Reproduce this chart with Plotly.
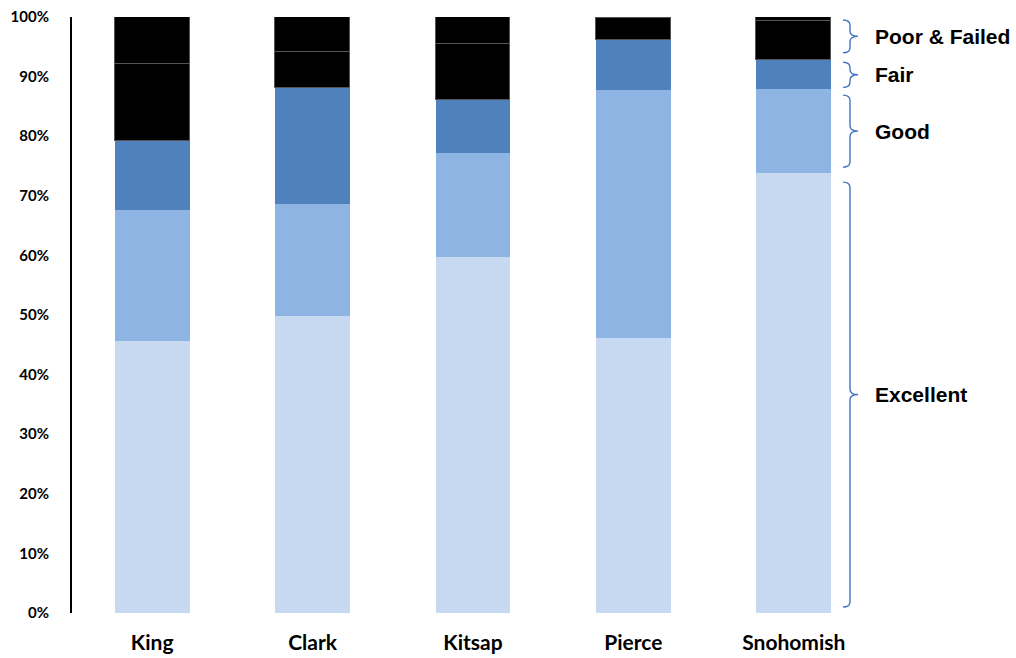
import plotly.graph_objects as go

counties = ["King", "Clark", "Kitsap", "Pierce", "Snohomish"]
excellent = [45.7, 49.9, 59.8, 46.2, 73.8]
good = [22.0, 18.7, 17.3, 41.5, 14.1]
fair = [11.5, 19.5, 8.9, 8.4, 4.9]
poor = [12.9, 6.0, 9.5, 3.7, 6.5]
failed = [7.9, 5.9, 4.5, 0.2, 0.7]
y_ticks = [0, 10, 20, 30, 40, 50, 60, 70, 80, 90, 100]

series = [
    ("Excellent", excellent, "#C6D9F1", "#C6D9F1", 0),
    ("Good", good, "#8EB4E3", "#8EB4E3", 0),
    ("Fair", fair, "#4F81BD", "#4F81BD", 0),
    ("Poor", poor, "#000000", "#555555", 1),
    ("Failed", failed, "#000000", "#555555", 1),
]

fig = go.Figure()
for name, vals, color, lcolor, lw in series:
    fig.add_trace(go.Bar(
        x=counties, y=vals, name=name,
        marker=dict(color=color, line=dict(color=lcolor, width=lw)),
        width=0.467,
    ))

# Curly braces beside the last bar, grouping its condition bands
last = len(counties) - 1
c1 = excellent[last]
c2 = c1 + good[last]
c3 = c2 + fair[last]
groups = [
    ("Excellent", 1.0, c1 - 1.5),
    ("Good", c1 + 1.0, c2 - 1.0),
    ("Fair", c2 + 0.3, c3 - 0.4),
    ("Poor & Failed", c3 + 1.2, 99.5),
]

L, W = 72, 802
def px(x):
    return (x - L) / W

x0, x1, x2 = px(843), px(850), px(858)
r = 0.9
blue = "#4472C4"
for label, lo, hi in groups:
    mid = (lo + hi) / 2
    path = (
        f"M {x0},{hi} Q {x1},{hi} {x1},{hi - r} "
        f"L {x1},{mid + r} Q {x1},{mid} {x2},{mid} "
        f"Q {x1},{mid} {x1},{mid - r} "
        f"L {x1},{lo + r} Q {x1},{lo} {x0},{lo}"
    )
    fig.add_shape(type="path", path=path, xref="paper", yref="y",
                  line=dict(color=blue, width=1.4))
    fig.add_annotation(
        x=px(873), y=mid, xref="paper", yref="y", text=f"<b>{label}</b>",
        showarrow=False, xanchor="left", yanchor="middle",
        font=dict(family="Liberation Sans, Arial", size=21, color="#000000"),
    )

fig.update_layout(
    barmode="stack",
    width=1016, height=658,
    margin=dict(l=L, r=1016 - L - W, t=17, b=45),
    paper_bgcolor="white", plot_bgcolor="white",
    showlegend=False,
    bargap=0,
)
fig.update_xaxes(
    showline=False, showgrid=False, ticks="", automargin=False,
    tickfont=dict(family="Lato", size=21, color="#000000", weight="bold"),
    ticklabelstandoff=15,
)
fig.update_yaxes(
    range=[0, 100], tickvals=y_ticks, automargin=False,
    ticktext=[f"{v}%" for v in y_ticks],
    showline=True, linecolor="#000000", linewidth=2,
    showgrid=False, zeroline=False, ticks="",
    tickfont=dict(family="Lato", size=15, color="#000000", weight="bold"),
    ticklabelstandoff=18,
)

fig.write_html("out.html")
